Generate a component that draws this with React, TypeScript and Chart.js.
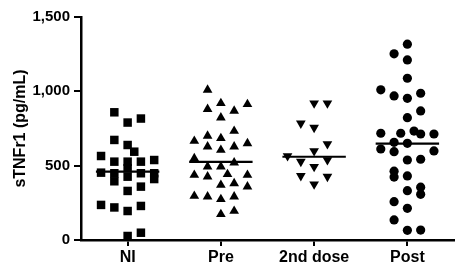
import { useEffect, useRef } from "react";
import { Chart, registerables } from "chart.js";

Chart.register(...registerables);

const categories = ["NI", "Pre", "2nd dose", "Post"];
const yTicks = [0, 500, 1000, 1500];

const niValues = [859, 790, 817, 673, 639, 594, 565, 527, 527, 527, 538, 453, 449, 482, 426, 449, 449, 410, 395, 359, 330, 236, 219, 195, 229, 27, 49];
const niCols = [-1, 0, 1, -1, 0, 0.5, -2, -1, 0, 1, 2, -2, -1, 0, 0, 1, 2, 2, -1, 1, 0, -2, -1, 0, 1, 0, 1];

const preValues = [1010, 920, 880, 868, 913, 823, 733, 700, 684, 666, 628, 605, 628, 650, 549, 520, 493, 493, 442, 437, 426, 437, 370, 381, 359, 296, 292, 274, 292, 173, 195];
const preCols = [-1, 0, -1, 1, 2, 0, 1, -1, 0, -2, -1, 0, 1, 2, -2, 1, -1, 0, 0.5, -2, -1, 2, 0, 1, 2, -2, -1, 0, 1, 0, 1];

const doseValues = [920, 920, 785, 756, 646, 565, 599, 527, 493, 538, 431, 426, 375];
const doseCols = [0, 1, -1, 0, 1, -2, 0, -1, 0, 1, -1, 1, 0];

const postValues = [1317, 1252, 1211, 1088, 1010, 969, 953, 987, 868, 823, 718, 718, 733, 713, 713, 657, 650, 612, 594, 599, 538, 543, 463, 423, 431, 332, 355, 307, 258, 213, 135, 65, 67];
const postCols = [0, -1, 0, 0, -2, -1, 0, 1, 1, 0, -2, -0.5, 0.5, 1, 2, -1, 0, -2, -1, 2, 0, 1, -1, -1, 0, 0, 1, 1, -1, 0, -1, 0, 1];

const medians = [460, 525, 560, 648];

const COL_STEP = 0.1425;
const MEDIAN_HALF = 0.34;
const FONT = "'Liberation Sans', Arial, Helvetica, sans-serif";

function toPoints(group: number, values: number[], cols: number[]) {
  return values.map((v, i) => ({ x: group + cols[i] * COL_STEP, y: v }));
}

export default function App() {
  const ref = useRef<HTMLCanvasElement | null>(null);

  useEffect(() => {
    if (!ref.current) return;
    const groups = [
      { values: niValues, cols: niCols, style: "rect", radius: 6, rotation: 0 },
      { values: preValues, cols: preCols, style: "triangle", radius: 5.6, rotation: 0 },
      { values: doseValues, cols: doseCols, style: "triangle", radius: 5.6, rotation: 180 },
      { values: postValues, cols: postCols, style: "circle", radius: 4.6, rotation: 0 },
    ];
    const datasets: any[] = groups.map((g, gi) => ({
      type: "scatter",
      label: categories[gi],
      data: toPoints(gi, g.values, g.cols),
      pointStyle: g.style,
      pointRadius: g.radius,
      pointRotation: g.rotation,
      pointBackgroundColor: "#000",
      pointBorderWidth: 0,
      pointBorderColor: "#000",
    }));
    medians.forEach((m, gi) => {
      datasets.push({
        type: "line",
        label: "median " + categories[gi],
        data: [
          { x: gi - MEDIAN_HALF, y: m },
          { x: gi + MEDIAN_HALF, y: m },
        ],
        borderColor: "#000",
        borderWidth: 2.2,
        pointRadius: 0,
        showLine: true,
      });
    });

    const chart = new Chart(ref.current, {
      type: "scatter",
      data: { datasets },
      options: {
        animation: false,
        responsive: false,
        maintainAspectRatio: false,
        layout: { padding: { top: 17, right: 0, left: 0, bottom: 0 } },
        plugins: { legend: { display: false }, tooltip: { enabled: false } },
        scales: {
          x: {
            type: "linear",
            min: -0.5,
            max: 3.5,
            afterBuildTicks: (scale: any) => {
              scale.ticks = categories.map((_, i) => ({ value: i }));
            },
            afterFit: (scale: any) => {
              scale.height = 25;
            },
            ticks: {
              autoSkip: false,
              maxRotation: 0,
              padding: 2,
              color: "#000",
              font: { family: FONT, size: 16, weight: "bold" },
              callback: (v: any) => categories[Number(v)] ?? "",
            },
            grid: {
              display: true,
              drawOnChartArea: false,
              drawTicks: true,
              tickLength: 6,
              color: "#000",
              lineWidth: 2,
            },
            border: { display: true, color: "#000", width: 2.5 },
          },
          y: {
            type: "linear",
            min: 0,
            max: 1500,
            afterBuildTicks: (scale: any) => {
              scale.ticks = yTicks.map((v) => ({ value: v }));
            },
            afterFit: (scale: any) => {
              scale.width = 81;
            },
            ticks: {
              padding: 4,
              color: "#000",
              font: { family: FONT, size: 15, weight: "bold" },
              callback: (v: any) => Number(v).toLocaleString("en-US"),
            },
            grid: {
              display: true,
              drawOnChartArea: false,
              drawTicks: true,
              tickLength: 7,
              color: "#000",
              lineWidth: 2,
            },
            border: { display: true, color: "#000", width: 2.5 },
            title: {
              display: true,
              text: "sTNFr1 (pg/mL)",
              color: "#000",
              font: { family: FONT, size: 16, weight: "bold" },
              padding: { top: 11, bottom: 0 },
            },
          },
        },
      },
    } as any);
    return () => chart.destroy();
  }, []);

  return (
    <div style={{ position: "fixed", left: 0, top: 0, width: 460, height: 265, background: "#fff" }}>
      <canvas ref={ref} width={460} height={265} style={{ display: "block", width: 460, height: 265 }} />
    </div>
  );
}
